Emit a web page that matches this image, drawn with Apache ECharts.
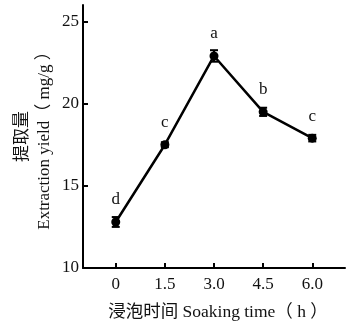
<!DOCTYPE html>
<html><head><meta charset="utf-8">
<script src="https://cdn.jsdelivr.net/npm/echarts@6/dist/echarts.min.js"></script>
<style>html,body{margin:0;padding:0;background:#fff}#c{width:347px;height:330px}</style>
</head><body><div id="c"></div>
<script>
var times = [0, 1.5, 3.0, 4.5, 6.0];
var tickLabels = ['0', '1.5', '3.0', '4.5', '6.0'];
var yields = [12.8, 17.5, 22.9, 19.5, 17.9];
var errors = [0.3, 0.15, 0.35, 0.25, 0.2];
var letters = ['d', 'c', 'a', 'b', 'c'];
var yTicks = [10, 15, 20, 25];

var serif = '"Liberation Serif", "Noto Sans CJK SC", serif';
var chart = echarts.init(document.getElementById('c'));
chart.setOption({
  backgroundColor: '#fff',
  animation: false,
  grid: {left: 83, right: 2, top: 5, bottom: 62, containLabel: false, outerBoundsMode: 'none'},
  xAxis: {
    type: 'value', min: -1, max: 7,
    name: '浸泡时间 Soaking time（ h ）', nameLocation: 'middle', nameGap: 36, nameMoveOverlap: false,
    nameTextStyle: {color: '#111', fontSize: 17.5, fontFamily: serif, padding: [0, 0, 0, 8]},
    axisLine: {show: true, onZero: false, lineStyle: {color: '#000', width: 2}},
    axisTick: {show: true, inside: true, length: 5, lineStyle: {color: '#000', width: 2}, customValues: times},
    axisLabel: {color: '#111', fontSize: 17, fontFamily: serif, margin: 8, customValues: times,
      formatter: function (v) { var i = times.indexOf(v); return i >= 0 ? tickLabels[i] : ''; }},
    splitLine: {show: false}
  },
  yAxis: {
    type: 'value', min: 10, max: 26,
    name: '提取量\nExtraction yield（ mg/g ）', nameLocation: 'middle', nameGap: 27, nameRotate: 90, nameMoveOverlap: false,
    nameTextStyle: {color: '#111', fontSize: 17, fontFamily: serif, lineHeight: 22},
    axisLine: {show: true, onZero: false, lineStyle: {color: '#000', width: 2}},
    axisTick: {show: true, inside: true, length: 5, lineStyle: {color: '#000', width: 2}, customValues: yTicks},
    axisLabel: {color: '#111', fontSize: 17, fontFamily: serif, margin: 4, customValues: yTicks},
    splitLine: {show: false}
  },
  series: [
    {
      type: 'line',
      data: times.map(function (t, i) { return [t, yields[i]]; }),
      symbol: 'circle', symbolSize: 9,
      itemStyle: {color: '#000'},
      lineStyle: {color: '#000', width: 2.5},
      label: {show: true, position: 'top', distance: 9, color: '#111', fontSize: 17, fontFamily: serif,
        formatter: function (p) { return letters[p.dataIndex]; }},
      z: 3
    },
    {
      type: 'custom',
      data: times.map(function (t, i) { return [t, yields[i] - errors[i], yields[i] + errors[i]]; }),
      renderItem: function (params, api) {
        var lo = api.coord([api.value(0), api.value(1)]);
        var hi = api.coord([api.value(0), api.value(2)]);
        var w = 4;
        var st = {stroke: '#000', lineWidth: 2};
        return {type: 'group', children: [
          {type: 'line', shape: {x1: lo[0], y1: lo[1], x2: hi[0], y2: hi[1]}, style: st},
          {type: 'line', shape: {x1: lo[0] - w, y1: lo[1], x2: lo[0] + w, y2: lo[1]}, style: st},
          {type: 'line', shape: {x1: hi[0] - w, y1: hi[1], x2: hi[0] + w, y2: hi[1]}, style: st}
        ]};
      },
      z: 4
    }
  ]
});
</script></body></html>
